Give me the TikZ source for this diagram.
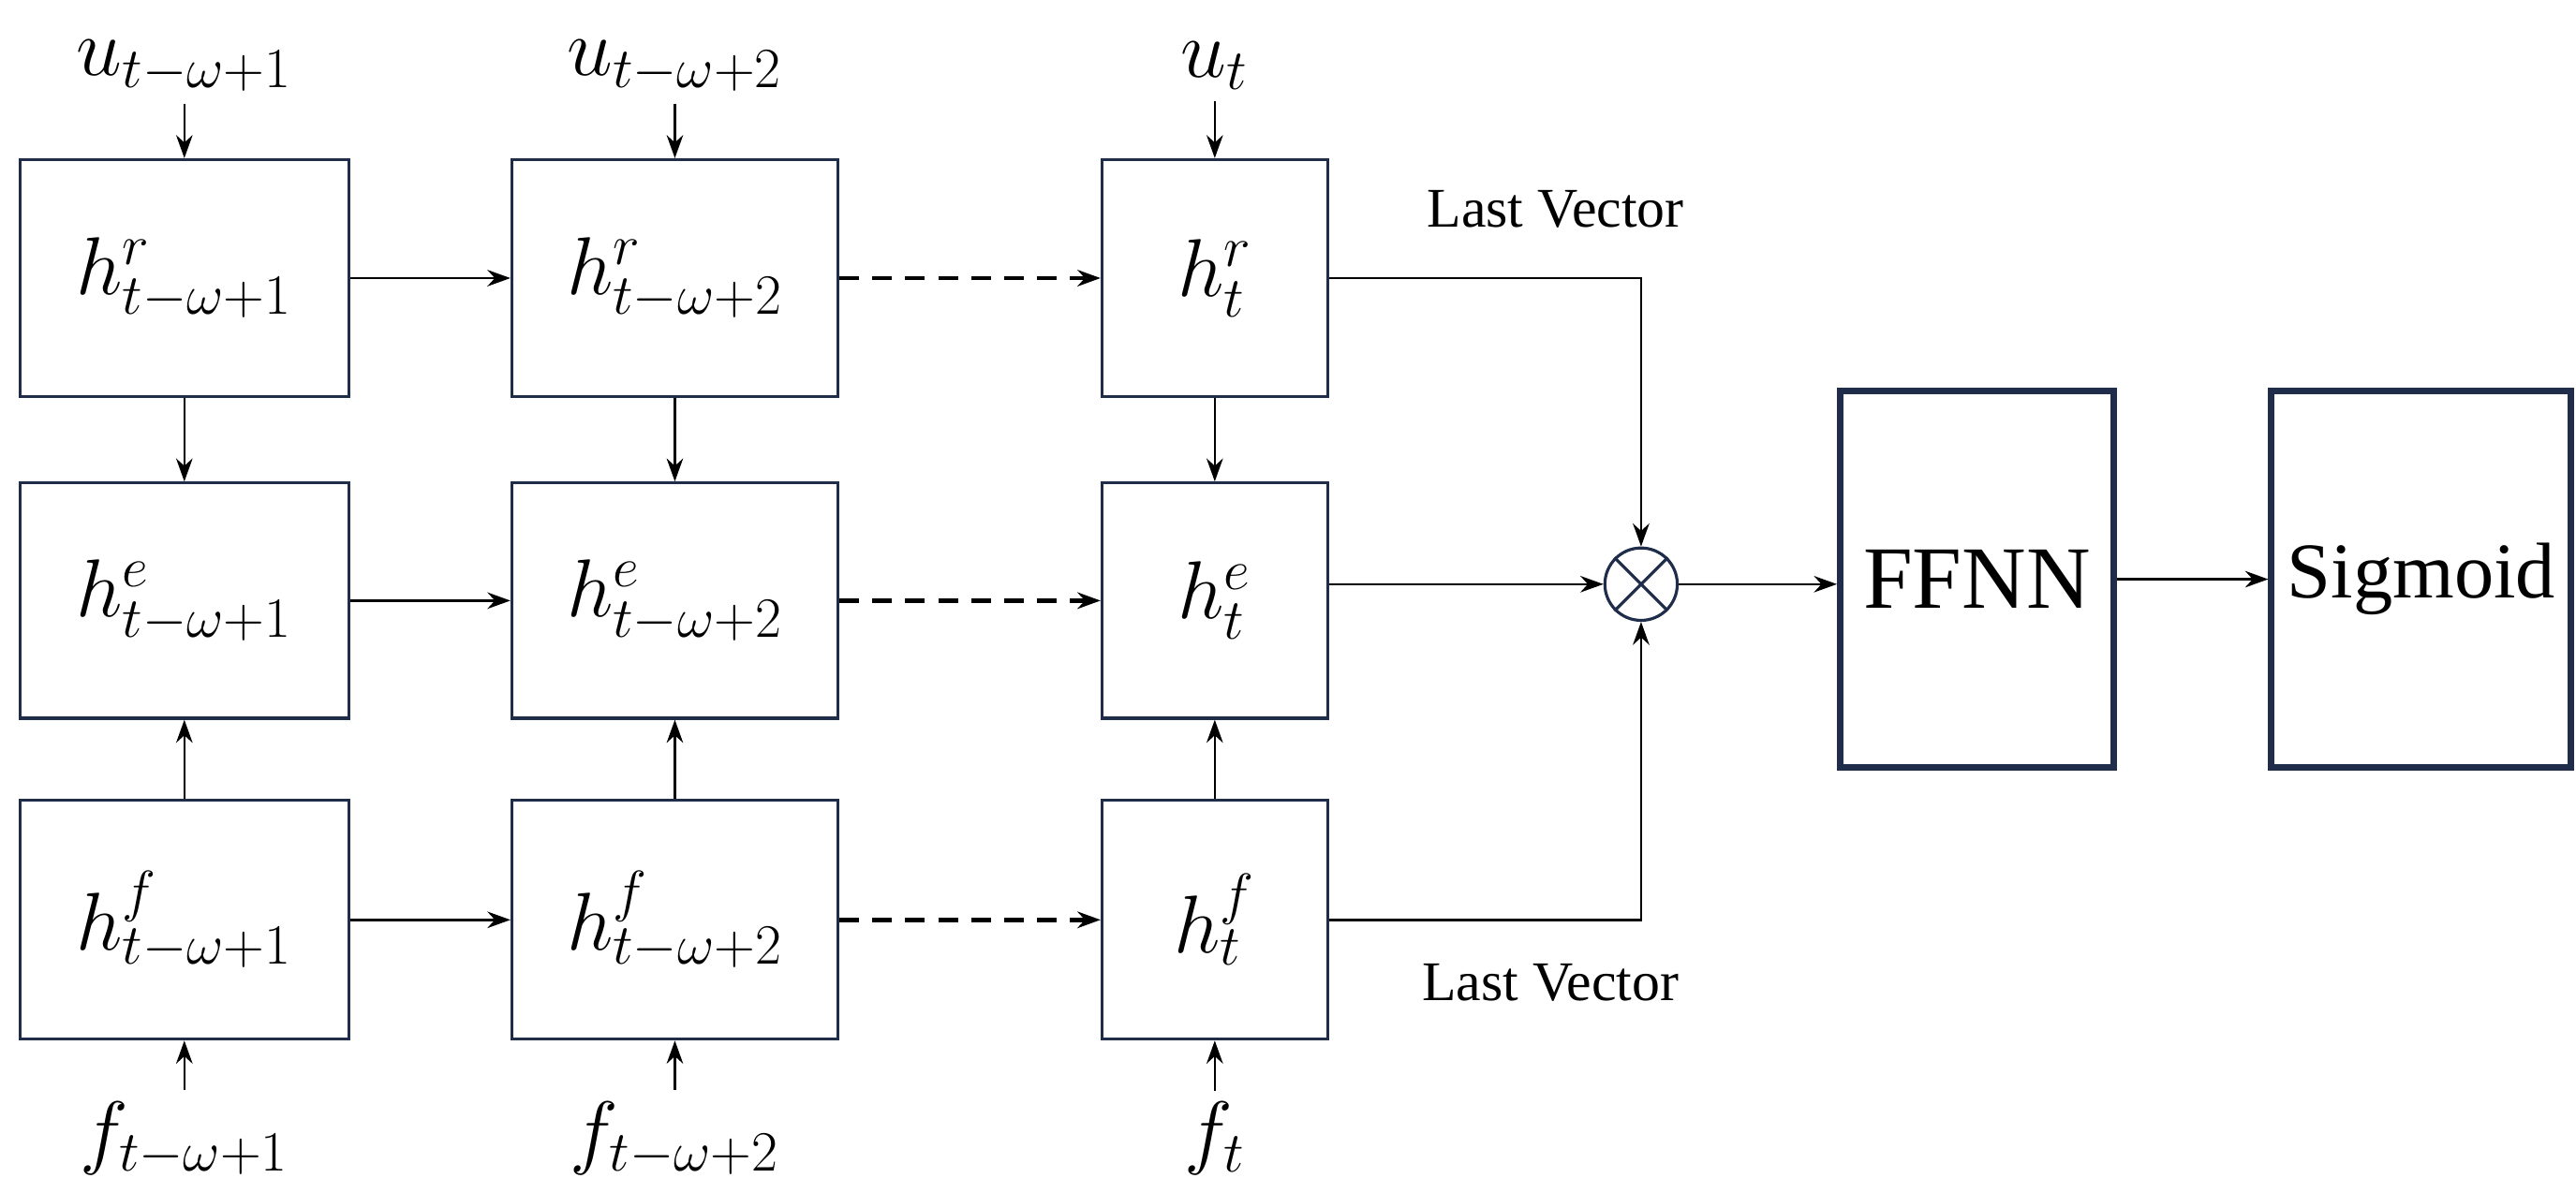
\documentclass[tikz,border=0pt]{standalone}
\usepackage{fontspec}
\setmainfont{Liberation Serif}
\usetikzlibrary{arrows.meta}
\definecolor{navy}{HTML}{1F2D4A}
\begin{document}
\begin{tikzpicture}[x=0.01757cm,y=-0.01757cm,
  cell/.style={draw=navy,line width=0.9pt,inner sep=0,fill=white},
  big/.style={draw=navy,line width=2pt,inner sep=0},
  ar/.style={-{Stealth[length=7pt,width=5pt]},line width=0.7pt},
  da/.style={ar,dashed,dash pattern=on 6pt off 4pt,line width=1.3pt},
  mt/.style={font=\fontsize{26}{30}\selectfont},
  lt/.style={font=\fontsize{17}{20}\selectfont}]
\useasboundingbox (0,0) rectangle (1565,725);
% boxes
\node[cell,minimum width=200*0.01757cm,minimum height=144*0.01757cm,mt] (r1) at (112,169) {$h^{r}_{t-\omega+1}$};
\node[cell,minimum width=198*0.01757cm,minimum height=144*0.01757cm,mt] (r2) at (410,169) {$h^{r}_{t-\omega+2}$};
\node[cell,minimum width=137*0.01757cm,minimum height=144*0.01757cm,mt] (r3) at (738,169) {$h^{r}_{t}$};
\node[cell,minimum width=200*0.01757cm,minimum height=143*0.01757cm,mt] (e1) at (112,365) {$h^{e}_{t-\omega+1}$};
\node[cell,minimum width=198*0.01757cm,minimum height=143*0.01757cm,mt] (e2) at (410,365) {$h^{e}_{t-\omega+2}$};
\node[cell,minimum width=137*0.01757cm,minimum height=143*0.01757cm,mt] (e3) at (738,365) {$h^{e}_{t}$};
\node[cell,minimum width=200*0.01757cm,minimum height=145*0.01757cm,mt] (f1) at (112,559) {$h^{f}_{t-\omega+1}$};
\node[cell,minimum width=198*0.01757cm,minimum height=145*0.01757cm,mt] (f2) at (410,559) {$h^{f}_{t-\omega+2}$};
\node[cell,minimum width=137*0.01757cm,minimum height=145*0.01757cm,mt] (f3) at (738,559) {$h^{f}_{t}$};
\node[big,minimum width=166*0.01757cm,minimum height=229*0.01757cm,font=\fontsize{27}{32}\selectfont] (ff) at (1201,352) {FFNN};
\node[big,minimum width=182*0.01757cm,minimum height=229*0.01757cm,font=\fontsize{24}{28}\selectfont] (sg) at (1471,352) {Sigmoid};
\node[draw=navy,circle,minimum size=44*0.01757cm,inner sep=0,line width=0.9pt] (x) at (997,355) {};
\draw[navy,line width=0.9pt] (x.north west)--(x.south east) (x.north east)--(x.south west);
% inputs
\node[mt] (u1) at (112,40) {$u_{t-\omega+1}$};
\node[mt] (u2) at (410,40) {$u_{t-\omega+2}$};
\node[mt] (u3) at (738,40) {$u_{t}$};
\node[mt] (i1) at (112,692) {$f_{t-\omega+1}$};
\node[mt] (i2) at (410,692) {$f_{t-\omega+2}$};
\node[mt] (i3) at (738,692) {$f_{t}$};
\node[lt] (lv1) at (945,127) {Last Vector};
\node[lt] (lv2) at (942,597) {Last Vector};
\draw[ar] (u1)--(r1); \draw[ar] (u2)--(r2); \draw[ar] (u3)--(r3);
\draw[ar] (i1)--(f1); \draw[ar] (i2)--(f2); \draw[ar] (i3)--(f3);
\draw[ar] (r1)--(e1); \draw[ar] (r2)--(e2); \draw[ar] (r3)--(e3);
\draw[ar] (f1)--(e1); \draw[ar] (f2)--(e2); \draw[ar] (f3)--(e3);
\foreach \a/\b in {r1/r2,e1/e2,f1/f2}{\draw[ar] (\a)--(\b);}
\foreach \a/\b in {r2/r3,e2/e3,f2/f3}{\draw[da] (\a)--(\b);}
\draw[ar] (r3.east) -| (x.north);
\draw[ar] (f3.east) -| (x.south);
\draw[ar] (e3.east |- x.west) -- (x.west);
\draw[ar] (x.east) -- (x.east -| ff.west);
\draw[ar] (ff.east) -- (sg.west);
\end{tikzpicture}
\end{document}
